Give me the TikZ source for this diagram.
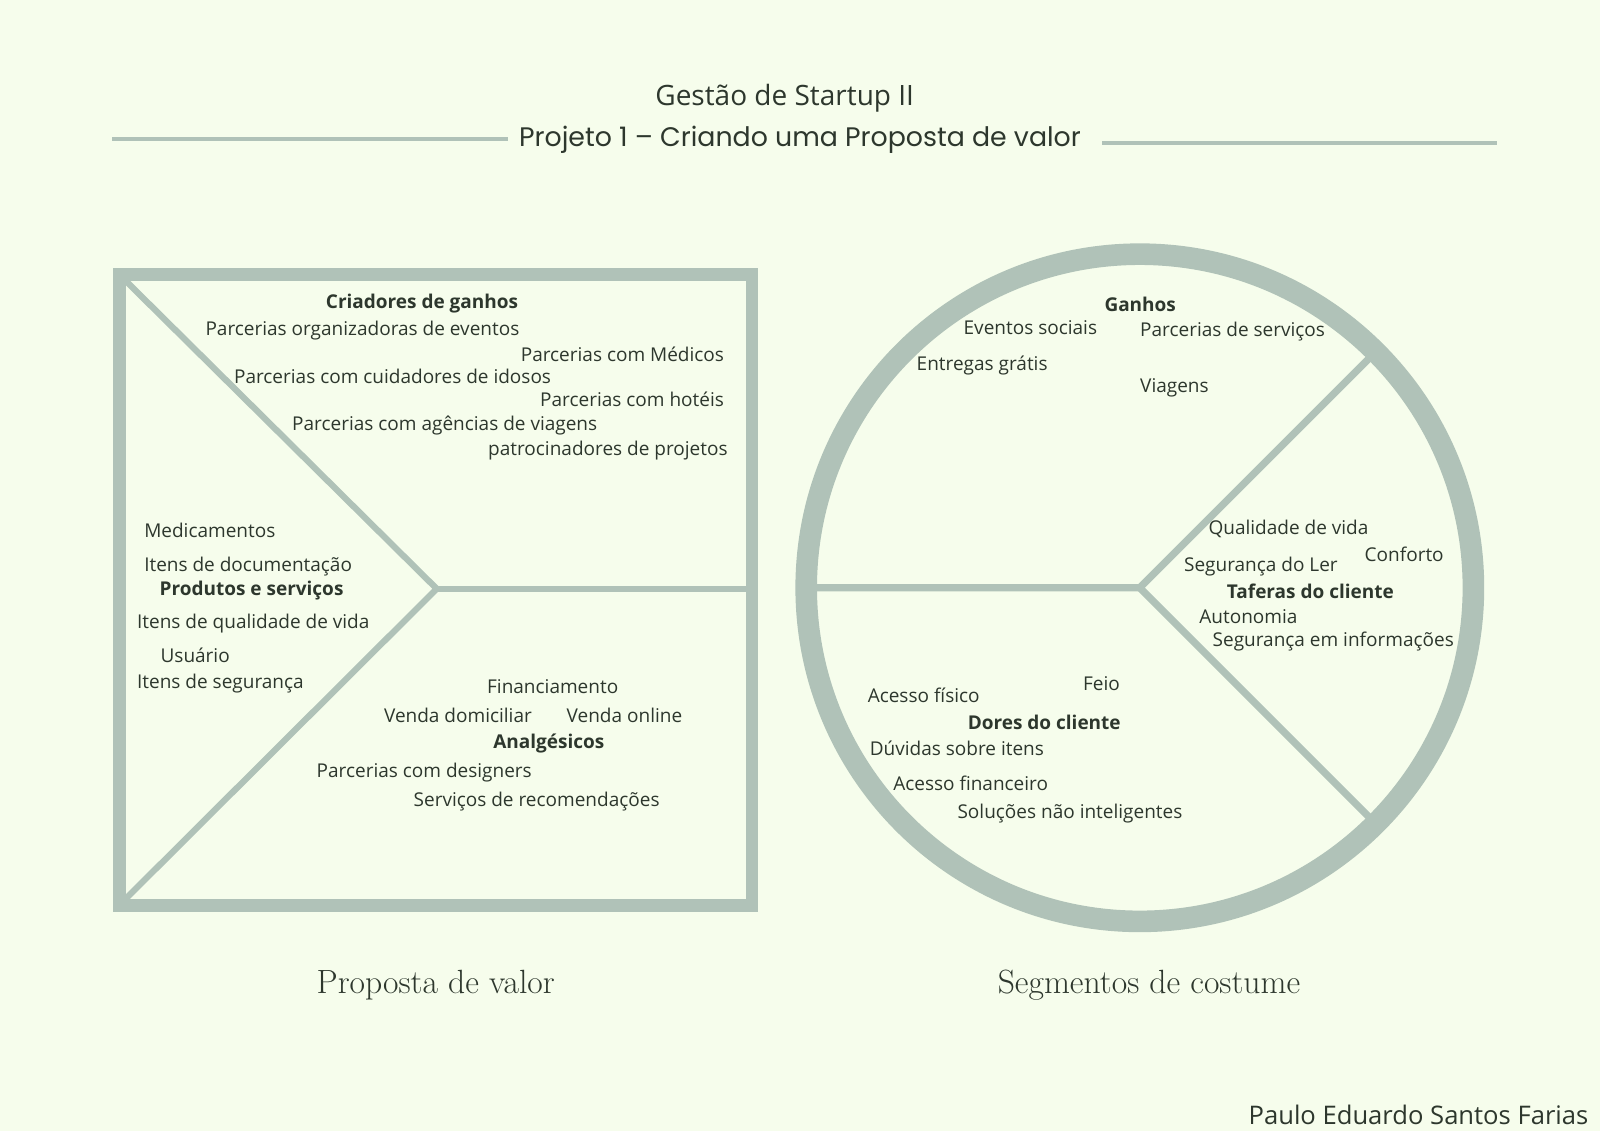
\documentclass[tikz,border=0pt]{standalone}
\usepackage{fontspec}
\setsansfont{Open Sans}
\newfontfamily\headfont{Poppins}
\usetikzlibrary{positioning}

\definecolor{bgcream}{HTML}{F6FDEC}
\definecolor{sage}{HTML}{B0C2B8}
\definecolor{ink}{HTML}{2D372D}

\begin{document}
\begin{tikzpicture}[
    x=0.5102pt, y=-0.5102pt,
    every node/.style={inner sep=0pt, text=ink},
    item/.style={anchor=west, yshift=-1pt, font=\sffamily\fontsize{9.5}{11}\selectfont},
    head/.style={anchor=west, yshift=-1pt, font=\sffamily\bfseries\fontsize{9.5}{11}\selectfont},
    frame/.style={draw=sage, line width=6.4pt},
    ring/.style={draw=sage, line width=10.8pt},
    divider/.style={draw=sage, line width=3.1pt},
    spoke/.style={draw=sage, line width=3.6pt},
    rule/.style={draw=sage, line width=2pt},
    caption/.style={font=\rmfamily\fontsize{16.8}{19}\selectfont}
]

% Background
\fill[bgcream] (0,0) rectangle (1568,1108.4);

% Title
\node (title) at (769,96) {\sffamily\fontsize{14}{16}\selectfont Gestão de Startup II};
\node (subtitle) at (784,137) {\headfont\fontsize{13.4}{15}\selectfont Projeto 1 – Criando uma Proposta de valor};
\coordinate (ruleLa) at (110,136);
\coordinate (ruleLb) at (498,136);
\coordinate (ruleRa) at (1080,140);
\coordinate (ruleRb) at (1467,140);
\draw [rule] (ruleLa) -- (ruleLb);
\draw [rule] (ruleRa) -- (ruleRb);

% Value map (square)
\coordinate (sqNW) at (117,269);
\coordinate (sqSE) at (737,887);
\coordinate (tip) at (428,577);
\draw [frame] (sqNW) rectangle (sqSE);
\draw [divider] (123,275) -- (tip) -- (123,881);
\draw [divider] (tip) -- (731,577);

% Customer profile (circle)
\coordinate (hub) at (1117,576);
\draw [ring] (hub) circle[radius=166.8pt];
\draw [spoke] (797,576) -- (hub) -- (1346,347);
\draw [spoke] (hub) -- (1346,805);

% Gain creators
\node (gaincreators) [head] at (319,296) {Criadores de ganhos};
\node (eventos) [item] at (201,322) {Parcerias organizadoras de eventos};
\node (medicos) [item] at (510,345) {Parcerias com Médicos};
\node (cuidadores) [item] at (229,367) {Parcerias com cuidadores de idosos};
\node (hoteis) [item] at (529,389) {Parcerias com hotéis};
\node (agencias) [item] at (286,415) {Parcerias com agências de viagens};
\node (patrocinadores) [item] at (478,440) {patrocinadores de projetos};

% Products and services
\node (medicamentos) [item] at (141,518) {Medicamentos};
\node (documentacao) [item] at (141,553) {Itens de documentação};
\node (produtos) [head] at (156,577) {Produtos e serviços};
\node (qualidade) [item] at (134,609) {Itens de qualidade de vida};
\node (usuario) [item] at (157,640) {Usuário};
\node (seguranca) [item] at (134,668) {Itens de segurança};

% Pain relievers
\node (financiamento) [item] at (477,671) {Financiamento};
\node (domiciliar) [item] at (376,699) {Venda domiciliar};
\node (online) [item] at (555,699) {Venda online};
\node (analgesicos) [head] at (483,727) {Analgésicos};
\node (designers) [item] at (310,755) {Parcerias com designers};
\node (recomendacoes) [item] at (405,784) {Serviços de recomendações};

% Gains
\node (ganhos) [head] at (1082,296) {Ganhos};
\node (sociais) [item] at (944,319) {Eventos sociais};
\node (servicos) [item] at (1117,323) {Parcerias de serviços};
\node (entregas) [item] at (898,356) {Entregas grátis};
\node (viagens) [item] at (1117,378) {Viagens};

% Customer jobs
\node (vida) [item] at (1184,516) {Qualidade de vida};
\node (conforto) [item] at (1337,541) {Conforto};
\node (lar) [item] at (1160,553) {Segurança do Ler};
\node (tarefas) [head] at (1202,578) {Taferas do cliente};
\node (autonomia) [item] at (1175,602) {Autonomia};
\node (informacoes) [item] at (1188,627) {Segurança em informações};

% Pains
\node (feio) [item] at (1061,668) {Feio};
\node (fisico) [item] at (850,679) {Acesso físico};
\node (dores) [head] at (948,706) {Dores do cliente};
\node (duvidas) [item] at (852,731) {Dúvidas sobre itens};
\node (financeiro) [item] at (875,766) {Acesso financeiro};
\node (solucoes) [item] at (938,795) {Soluções não inteligentes};

% Captions
\node (proposta) [caption] at (427,965) {Proposta de valor};
\node (segmentos) [caption] at (1126,965) {Segmentos de costume};
\node (autor) [anchor=east, font=\sffamily\fontsize{12.8}{15}\selectfont] at (1557,1093) {Paulo Eduardo Santos Farias};

\end{tikzpicture}
\end{document}
